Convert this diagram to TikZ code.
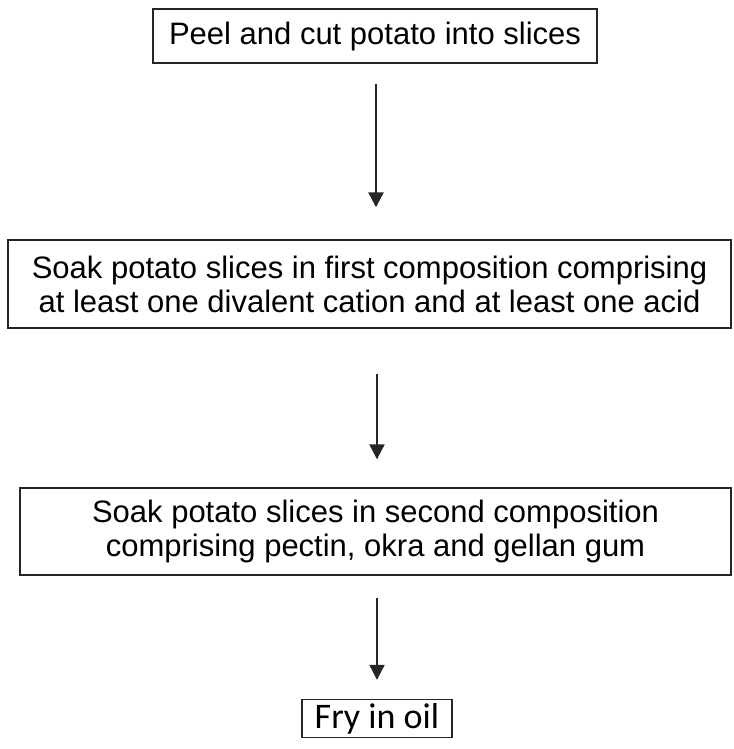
\documentclass[tikz,border=0pt]{standalone}
\usepackage{fontspec}
\setmainfont{Liberation Sans}
\newfontfamily\fryfont{Carlito}
\usetikzlibrary{arrows.meta}
\tikzset{
  stepbox/.style={draw=black!85, line width=1.4pt, inner sep=0pt, anchor=center,
    align=center, font=\fontsize{31}{34}\selectfont, text=black},
  arr/.style={draw=black!85, line width=2.2pt, -{Triangle[width=15pt,length=15pt]}}
}
\begin{document}
\begin{tikzpicture}[x=1pt,y=1pt]
\useasboundingbox (0,0) rectangle (733,-749);
\node[stepbox, minimum width=444pt, minimum height=54pt] (b1) at (375,-36)
  {Peel and cut potato into slices};
\node[stepbox, minimum width=723pt, minimum height=88pt] (b2) at (369.5,-284)
  {Soak potato slices in first composition comprising\\at least one divalent cation and at least one acid};
\node[stepbox, minimum width=711pt, minimum height=87pt] (b3) at (375.5,-531.5)
  {Soak potato slices in second composition\\comprising pectin, okra and gellan gum};
\node[stepbox, minimum width=150pt, minimum height=38pt, font=\fryfont\fontsize{36}{40}\selectfont] (b4) at (377,-718.5)
  {Fry in oil};
\draw[arr, shorten <=20pt, shorten >=32pt] ([xshift=1pt]b1.south) -- ([xshift=1pt]b1.south |- b2.north);
\draw[arr, shorten <=45pt, shorten >=28pt] (b2.south -| b4.north) -- (b3.north -| b4.north);
\draw[arr, shorten <=22pt, shorten >=19pt] (b3.south -| b4.north) -- (b4.north);
\end{tikzpicture}
\end{document}
